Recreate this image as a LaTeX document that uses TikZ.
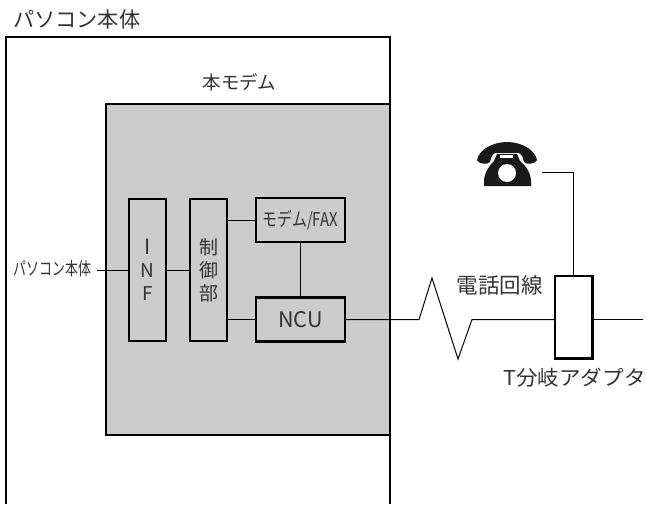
\documentclass[tikz,border=0pt]{standalone}
\usepackage{fontspec}
\setmainfont{Noto Sans CJK JP}
\usepackage{xcolor}
\usetikzlibrary{positioning}

\definecolor{panelgray}{gray}{0.8}
\definecolor{inkgray}{gray}{0.2}

\begin{document}
\begin{tikzpicture}[x=1pt,y=-1pt,
    block/.style={draw, line width=2.2pt, outer sep=0pt, inner sep=0pt, text=inkgray},
    tall/.style={block, minimum width=37pt, minimum height=142pt, align=center, font=\fontsize{19}{23}\selectfont},
    wide/.style={block, minimum width=89pt, minimum height=44pt},
    label/.style={inner sep=0pt, text=inkgray},
    wire/.style={line width=1pt}]
    \useasboundingbox (0,0) rectangle (646,504);

    % frames
    \coordinate (pcbl) at (6,504);
    \coordinate (pctl) at (6,37);
    \coordinate (pctr) at (390,37);
    \coordinate (pcbr) at (390,504);
    \node[draw, line width=2pt, fill=panelgray, outer sep=0pt, minimum width=284pt, minimum height=331pt] (modem) at (248,269.5) {};
    \draw[line width=2pt] (pcbl) -- (pctl) -- (pctr) -- (pcbr);

    % blocks
    \node[tall] (inf) at (147.5,270) {\fontsize{21}{23}\selectfont I\\N\\F};
    \node[tall, right=24pt of inf] (ctrl) {制\\御\\部};
    \node[wide] (fax) at (300.5,220) {\fontsize{19}{20}\selectfont\scalebox{0.78}[1]{モデム/FAX}};
    \node[wide, below=55.5pt of fax] (ncu) {\fontsize{21.5}{24}\selectfont NCU};
    \node[block, minimum width=37.5pt, minimum height=82.5pt] (tee) at (573.75,317.25) {};

    % labels
    \node[label, anchor=west] (pclabel) at (13,19) {\fontsize{21.2}{24}\selectfont パソコン本体};
    \node[label] (modemlabel) at (239.5,82) {\fontsize{18.5}{22}\selectfont 本モデム};
    \node[label, anchor=west] (hostlabel) at (13,269) {\fontsize{18}{20}\selectfont\scalebox{0.72}[1]{パソコン本体}};
    \node[label] (linelabel) at (499.5,285) {\fontsize{21.5}{24}\selectfont 電話回線};
    \node[label] (teelabel) at (574.5,378) {\fontsize{20.5}{24}\selectfont\scalebox{1.05}[1]{T分岐アダプタ}};

    % telephone
    \fill[black!90] (477,160) .. controls (479,150) and (492,142) .. (507,142)
        .. controls (522,142) and (535,150) .. (537,160)
        .. controls (536,164) and (526,165) .. (524,162)
        .. controls (523,159) and (523,155) .. (519,153)
        -- (495,153)
        .. controls (491,155) and (491,159) .. (490,162)
        .. controls (488,165) and (478,164) .. (477,160) -- cycle;
    \fill[black!90] (484,186) -- (484,180) .. controls (485,171) and (490,165) .. (494,161)
        -- (497,154) -- (517,154) -- (520,161)
        .. controls (525,165) and (530,171) .. (531,180) -- (531,186) -- cycle;
    \fill[white] (500,155) rectangle (513,158);
    \fill[white] (507,173) circle (9);
    \coordinate (phone) at (542,172);

    % wires
    \coordinate (hostend) at (97,270);
    \coordinate (zza) at (419,319.5);
    \coordinate (zzb) at (432,278);
    \coordinate (zzc) at (458,359);
    \coordinate (zzd) at (472,319.5);
    \coordinate (lineend) at (643,319.5);
    \draw[wire] (hostend) -- (inf.west);
    \draw[wire] (inf.east) -- (ctrl.west);
    \draw[wire] (fax.west) -- (fax.west -| ctrl.east);
    \draw[wire] (ncu.west) -- (ncu.west -| ctrl.east);
    \draw[wire] (fax.south) -- (ncu.north);
    \draw[wire] (ncu.east) -- (zza) -- (zzb) -- (zzc) -- (zzd) -- (zzd -| tee.west);
    \draw[wire] (lineend -| tee.east) -- (lineend);
    \draw[wire] (phone) -| (tee.north);

\end{tikzpicture}
\end{document}
